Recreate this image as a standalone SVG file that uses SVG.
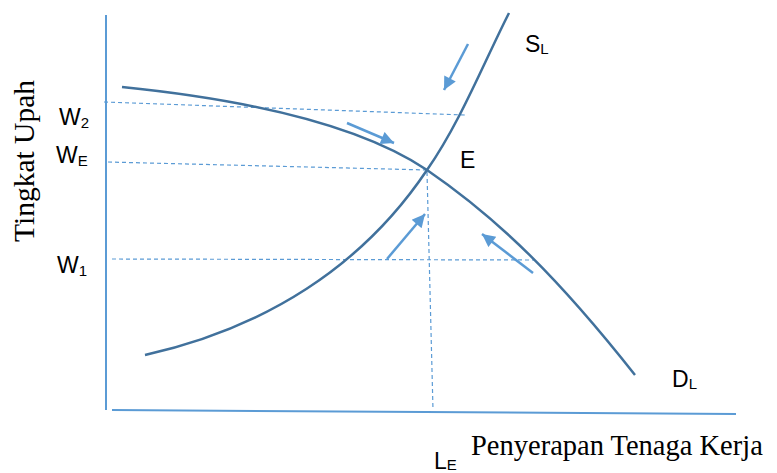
<svg xmlns="http://www.w3.org/2000/svg" width="777" height="473" viewBox="0 0 777 473">
<style>
.axis{stroke:#5B9BD5;stroke-width:2;fill:none}
.curve{stroke:#41719C;stroke-width:2.5;fill:none}
.dash{stroke:#5B9BD5;stroke-width:1.2;stroke-dasharray:4 3;fill:none}
.arr{stroke:#5B9BD5;stroke-width:2.5;fill:none;marker-end:url(#ah)}
.lbl{font-family:"Liberation Sans","Open Sans",Arial,sans-serif;font-size:23px;fill:#000}
.sub{font-size:15px}
.ttl{font-family:"Liberation Serif","Times New Roman",serif;font-size:28.5px;fill:#000}
</style>
<defs>
<marker id="ah" viewBox="0 0 10 10" refX="10" refY="5" markerWidth="15" markerHeight="13" markerUnits="userSpaceOnUse" orient="auto">
<path d="M0,0 L10,5 L0,10 z" fill="#5B9BD5"/>
</marker>
</defs>
<g id="axes">
<line class="axis" x1="106" y1="15" x2="106" y2="410"/>
<line class="axis" x1="112" y1="410" x2="736" y2="414"/>
</g>
<g id="guides">
<line class="dash" x1="104" y1="102" x2="465" y2="115"/>
<line class="dash" x1="108" y1="162" x2="427" y2="170"/>
<line class="dash" x1="112" y1="259" x2="535" y2="260"/>
<line class="dash" x1="427" y1="172" x2="433" y2="410"/>
</g>
<g id="demand">
<path class="curve" d="M122,87 C250,100 360,125 427,170 C500,220 560,280 635,375"/>
</g>
<g id="supply">
<path class="curve" d="M145,355 C265,328 362,267 427,170 C460,123 485,60 509,13"/>
</g>
<g id="connectors">
<line class="arr" x1="468" y1="44" x2="444" y2="90"/>
<line class="arr" x1="347" y1="123" x2="394" y2="143"/>
<line class="arr" x1="387" y1="259" x2="425" y2="214"/>
<line class="arr" x1="533" y1="273" x2="482" y2="234"/>
</g>
<g id="labels">
<text class="lbl" x="59" y="125">W<tspan class="sub" dy="3">2</tspan></text>
<text class="lbl" x="56" y="163">W<tspan class="sub" dy="3">E</tspan></text>
<text class="lbl" x="57" y="273">W<tspan class="sub" dy="3">1</tspan></text>
<text class="lbl" x="460" y="168">E</text>
<text class="lbl" x="525" y="52">S<tspan class="sub" dy="2">L</tspan></text>
<text class="lbl" x="672" y="387">D<tspan class="sub" dy="2">L</tspan></text>
<text class="lbl" x="434" y="469">L<tspan class="sub" dy="1">E</tspan></text>
<text class="ttl" x="471" y="455">Penyerapan Tenaga Kerja</text>
<text class="ttl" style="font-size:29.5px" x="34" y="161" text-anchor="middle" transform="rotate(-90 34 161)">Tingkat Upah</text>
</g>
</svg>
